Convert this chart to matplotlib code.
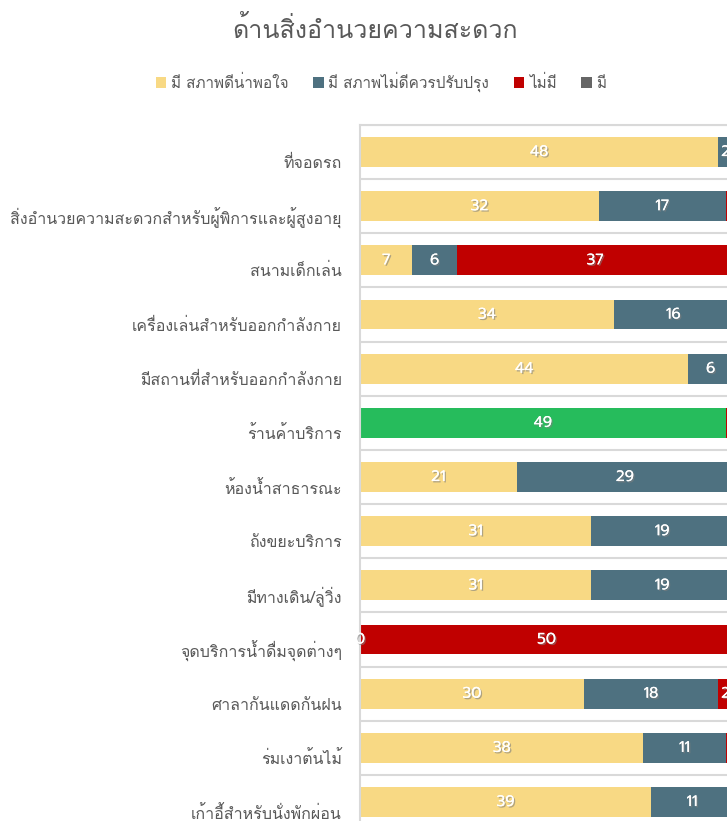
import numpy as np
import matplotlib
matplotlib.use("Agg")
import matplotlib.pyplot as plt
import matplotlib.patheffects as pe
from matplotlib.transforms import ScaledTranslation

# Loma วางวรรณยุกต์ถูกตำแหน่ง (matplotlib ไม่จัดเรียงอักษรไทยให้)
plt.rcParams['font.family'] = ['Loma', 'DejaVu Sans']

# ข้อมูล (แต่ละรายการรวม 50 คน)
categories = [
    'ที่จอดรถ',
    'สิ่งอำนวยความสะดวกสำหรับผู้พิการและผู้สูงอายุ',
    'สนามเด็กเล่น',
    'เครื่องเล่นสำหรับออกกำลังกาย',
    'มีสถานที่สำหรับออกกำลังกาย',
    'ร้านค้าบริการ',
    'ห้องน้ำสาธารณะ',
    'ถังขยะบริการ',
    'มีทางเดิน/ลู่วิ่ง',
    'จุดบริการน้ำดื่มจุดต่างๆ',
    'ศาลากันแดดกันฝน',
    'ร่มเงาต้นไม้',
    'เก้าอี้สำหรับนั่งพักผ่อน',
]
nan = np.nan
good = [48, 32, 7, 34, 44, 49, 21, 31, 31, 0, 30, 38, 39]
need_fix = [2, 17, 6, 16, 6, nan, 29, 19, 19, nan, 18, 11, 11]
none_ = [nan, 1, 37, nan, nan, 1, nan, nan, nan, 50, 2, 1, nan]
have = [nan] * 13

series_names = ['มี สภาพดีน่าพอใจ', 'มี สภาพไม่ดีควรปรับปรุง', 'ไม่มี', 'มี']
series_vals = [good, need_fix, none_, have]
colors = ['#F8D984', '#4E7180', '#C00000', '#666666']
green = '#26BC5C'
txt = '#595959'

fig = plt.figure(figsize=(7.27, 8.21), dpi=100)
ax = fig.add_axes([360 / 727, -0.0099, 373 / 727, 0.8577])

y = np.arange(len(categories))
left = np.zeros(len(categories))
containers = []
for name, vals, col in zip(series_names, series_vals, colors):
    v = np.array(vals, dtype=float)
    c = ax.barh(y, v, left=left, height=0.55, color=col, label=name)
    containers.append(c)
    left = left + np.nan_to_num(v)

# ร้านค้าบริการ ใช้สีเขียว
containers[0].patches[5].set_facecolor(green)

shadow = [pe.withSimplePatchShadow(offset=(1, -1), shadow_rgbFace='#7f7f7f', alpha=0.6), pe.Normal()]
for c, vals in zip(containers, series_vals):
    labels = ['' if np.isnan(v) else '%d' % v for v in np.array(vals, dtype=float)]
    ax.bar_label(c, labels=labels, label_type='center', color='white', fontsize=11,
                 fontfamily='Prompt', path_effects=shadow)

ax.set_xlim(0, 50)
ax.set_ylim(len(categories) - 0.5, -0.5)
ax.set_yticks(y)
ax.set_yticklabels(categories, fontsize=11.5, color=txt)
ax.tick_params(axis='y', length=0, pad=13)
ax.tick_params(axis='x', length=0, labelbottom=False)
off = ScaledTranslation(0, -0.1, fig.dpi_scale_trans)
for lab in ax.get_yticklabels():
    lab.set_transform(lab.get_transform() + off)

ax.set_yticks(np.arange(-0.5, len(categories)), minor=True)
ax.tick_params(axis='y', which='minor', length=0)
ax.grid(which='minor', axis='y', color='#D9D9D9', lw=1.5)
ax.set_axisbelow(True)
for s in ax.spines.values():
    s.set_color('#D9D9D9')
    s.set_linewidth(1.5)

fig.text(375 / 727, 1 - 30 / 821, 'ด้านสิ่งอำนวยความสะดวก', ha='center', va='center',
         fontsize=18, color=txt)
fig.legend(handles=containers, labels=series_names, loc='center',
           bbox_to_anchor=(381 / 727, 1 - 82 / 821), ncol=4, frameon=False,
           handlelength=0.7, handleheight=0.7, handletextpad=0.3, columnspacing=1.6,
           prop={'family': ['Loma', 'DejaVu Sans'], 'size': 11}, labelcolor=txt)

fig.savefig('out.png', dpi=100)
